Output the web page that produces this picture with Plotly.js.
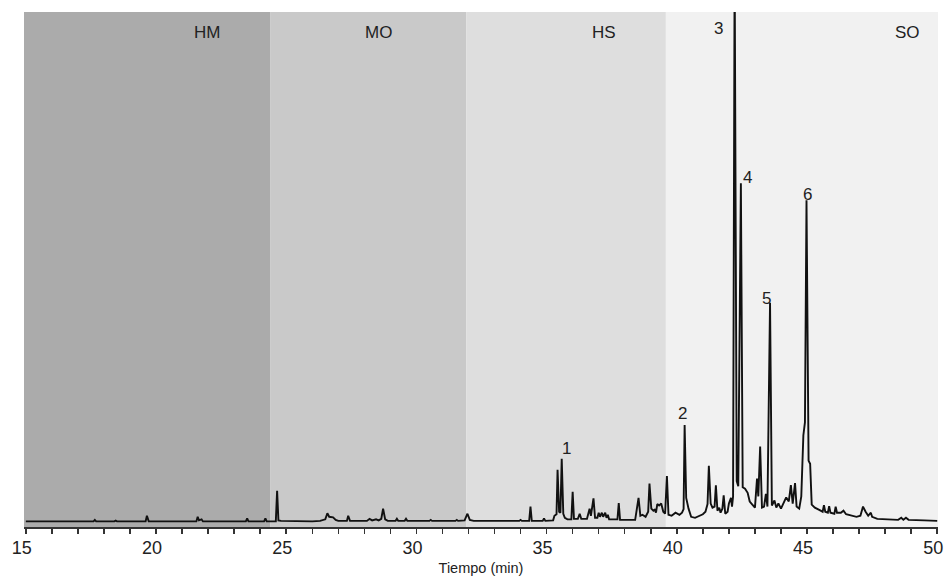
<!DOCTYPE html>
<html>
<head>
<meta charset="utf-8">
<script src="https://cdn.plot.ly/plotly-3.0.1.min.js"></script>
<style>
html,body{margin:0;padding:0;background:#fff;}
#chart{width:945px;height:578px;}
</style>
</head>
<body>
<div id="chart"></div>
<script>
// Chromatogram vertices (retention time, min) and signal (relative, 0-100)
const time = [
15.0,17.6,17.65,17.7,18.4,18.45,18.5,19.6,19.65,19.72,
21.55,21.6,21.65,21.75,21.8,22.6,22.65,22.7,23.45,23.5,23.55,24.15,24.2,24.25,
24.6,24.65,24.7,24.8,25.4,26.0,26.3,26.5,26.58,26.65,26.8,26.9,27.0,
27.33,27.38,27.45,28.1,28.2,28.3,28.45,28.55,28.65,28.72,28.8,28.9,
29.2,29.25,29.3,29.55,29.6,29.65,30.5,30.55,30.6,31.5,31.55,31.6,
31.85,31.96,32.05,32.2,33.0,33.5,33.95,34.0,34.05,34.33,34.38,34.43,
34.85,34.9,34.95,35.25,35.3,35.38,35.42,35.48,35.53,35.58,35.64,35.7,35.8,
35.95,36.0,36.05,36.2,36.27,36.33,36.55,36.65,36.7,36.8,36.86,36.95,
37.0,37.05,37.12,37.17,37.25,37.3,37.35,37.4,37.72,37.77,37.82,38.4,
38.53,38.6,38.68,38.8,38.9,38.95,39.02,39.1,39.15,39.2,39.25,39.32,39.4,
39.48,39.55,39.62,39.68,39.8,39.95,40.1,40.2,40.26,40.3,40.36,40.45,40.55,
40.7,40.85,41.0,41.1,41.18,41.23,41.3,41.37,41.45,41.5,41.56,41.63,41.68,
41.75,41.8,41.86,41.95,42.0,42.08,42.12,42.16,42.22,42.3,42.36,42.46,42.53,
42.62,42.72,42.8,42.9,43.0,43.08,43.13,43.2,43.27,43.35,43.42,43.48,43.58,
43.65,43.75,43.82,43.9,44.0,44.1,44.2,44.3,44.38,44.45,44.54,44.6,44.7,
44.78,44.86,44.92,44.98,45.06,45.12,45.18,45.3,45.45,45.6,45.65,45.7,45.8,
45.85,45.9,46.05,46.1,46.15,46.3,46.4,46.5,46.7,46.9,47.05,47.15,47.25,
47.35,47.45,47.5,47.7,48.0,48.5,48.62,48.7,48.8,48.9,49.5,50.0
];
const signal = [
0.1,0.1,0.4,0.1,0.1,0.25,0.1,0.1,1.2,0.1,
0.1,1.0,0.3,0.5,0.1,0.1,0.2,0.1,0.1,0.7,0.1,0.1,0.7,0.1,
0.1,6.1,0.3,0.2,0.1,0.1,0.2,0.5,1.7,1.0,0.9,0.4,0.2,
0.2,1.2,0.2,0.2,0.6,0.3,0.5,0.3,0.6,2.6,0.5,0.2,
0.2,0.6,0.2,0.2,0.6,0.2,0.2,0.4,0.2,0.2,0.4,0.2,
0.3,1.6,0.4,0.2,0.2,0.2,0.2,0.4,0.2,0.2,3.0,0.2,
0.2,0.7,0.2,0.3,1.2,1.5,10.2,2.0,1.8,12.4,1.6,0.8,0.5,
0.5,5.9,0.6,0.6,1.6,0.6,0.6,2.6,1.2,4.6,0.8,0.8,
1.8,1.0,1.8,1.0,1.8,0.8,1.4,0.5,0.5,3.7,0.4,0.4,
4.7,1.2,1.4,1.0,2.0,7.5,2.6,2.2,2.4,1.8,3.5,3.2,3.6,
2.0,1.6,9.0,1.4,1.2,1.8,1.4,1.8,2.5,19.0,4.7,2.6,1.0,
0.8,1.2,1.5,2.0,3.5,11.0,3.6,2.8,3.0,7.2,2.2,2.8,1.8,
2.6,5.2,1.6,2.0,3.6,4.7,3.0,5.0,110,8.0,7.0,66.4,6.8,
6.5,5.7,4.0,3.4,2.8,8.5,5.0,14.8,2.8,3.0,5.5,3.0,43.0,
3.2,4.2,2.8,3.6,2.6,3.6,4.8,4.0,7.2,3.6,7.6,3.0,2.6,
5.0,17.0,19.5,63.1,12.0,11.4,3.4,2.8,2.4,2.0,3.3,2.0,1.8,
3.1,1.8,1.6,3.0,1.8,1.8,2.2,1.5,1.2,1.0,1.2,3.0,2.0,
1.2,1.8,1.0,0.6,0.5,0.4,0.8,0.4,0.8,0.4,0.3,0.2
];

// Shaded fractions
const regionNames = ['HM', 'MO', 'HS', 'SO'];
const regionStart = [14.93, 24.38, 31.92, 39.58];
const regionEnd   = [24.38, 31.92, 39.58, 50.03];
const regionColors = ['#ababab', '#c9c9c9', '#dedede', '#f1f1f1'];
const regionLabelX = [21.96, 28.54, 37.19, 48.85];

// Peak labels
const peakLabels = ['1', '2', '3', '4', '5', '6'];
const peakLabelX = [35.77, 40.23, 41.6, 42.73, 43.46, 45.0];
const peakLabelY = [14.3, 21.2, 96.7, 67.6, 43.9, 64.3];

const tickVals = [15, 20, 25, 30, 35, 40, 45, 50];

const font = 'Liberation Sans, Arial, Helvetica, sans-serif';

const shapes = regionNames.map((n, i) => ({
  type: 'rect', xref: 'x', yref: 'paper',
  x0: regionStart[i], x1: regionEnd[i], y0: 0, y1: 1,
  fillcolor: regionColors[i], line: {width: 0}, layer: 'below'
}));

const annotations = regionNames.map((n, i) => ({
  text: n, xref: 'x', yref: 'paper', x: regionLabelX[i], y: 0.961,
  showarrow: false, xanchor: 'center', yanchor: 'middle',
  font: {family: font, size: 17, color: '#222'}
})).concat(peakLabels.map((p, i) => ({
  text: p, xref: 'x', yref: 'y', x: peakLabelX[i], y: peakLabelY[i],
  showarrow: false, xanchor: 'center', yanchor: 'middle',
  font: {family: font, size: 17, color: '#222'}
})));

const trace = {
  x: time, y: signal, type: 'scatter', mode: 'lines',
  line: {color: '#111', width: 1.9},
  hoverinfo: 'skip', showlegend: false
};

const layout = {
  width: 945, height: 578,
  margin: {l: 24, r: 7, t: 12, b: 51},
  paper_bgcolor: '#ffffff', plot_bgcolor: '#ffffff',
  shapes: shapes,
  annotations: annotations,
  xaxis: {
    range: [14.93, 50.03],
    tickvals: tickVals,
    ticktext: tickVals.map(String),
    ticks: 'outside', ticklen: 5, tickwidth: 1.5, tickcolor: '#333',
    minor: {dtick: 1, tick0: 15, ticks: 'outside', ticklen: 5, tickwidth: 1.5, tickcolor: '#333'},
    showline: true, linewidth: 2, linecolor: '#333',
    showgrid: false, zeroline: false,
    ticklabeloverflow: 'allow',
    ticklabelstandoff: -2,
    ticklabelshift: -4,
    tickfont: {family: font, size: 18, color: '#222'},
    title: {text: 'Tiempo (min)', font: {family: font, size: 14.5, color: '#222'}, standoff: 6}
  },
  yaxis: {
    range: [-1, 100],
    visible: false, showgrid: false, zeroline: false
  }
};

Plotly.newPlot('chart', [trace], layout, {displayModeBar: false, staticPlot: true});
</script>
</body>
</html>
